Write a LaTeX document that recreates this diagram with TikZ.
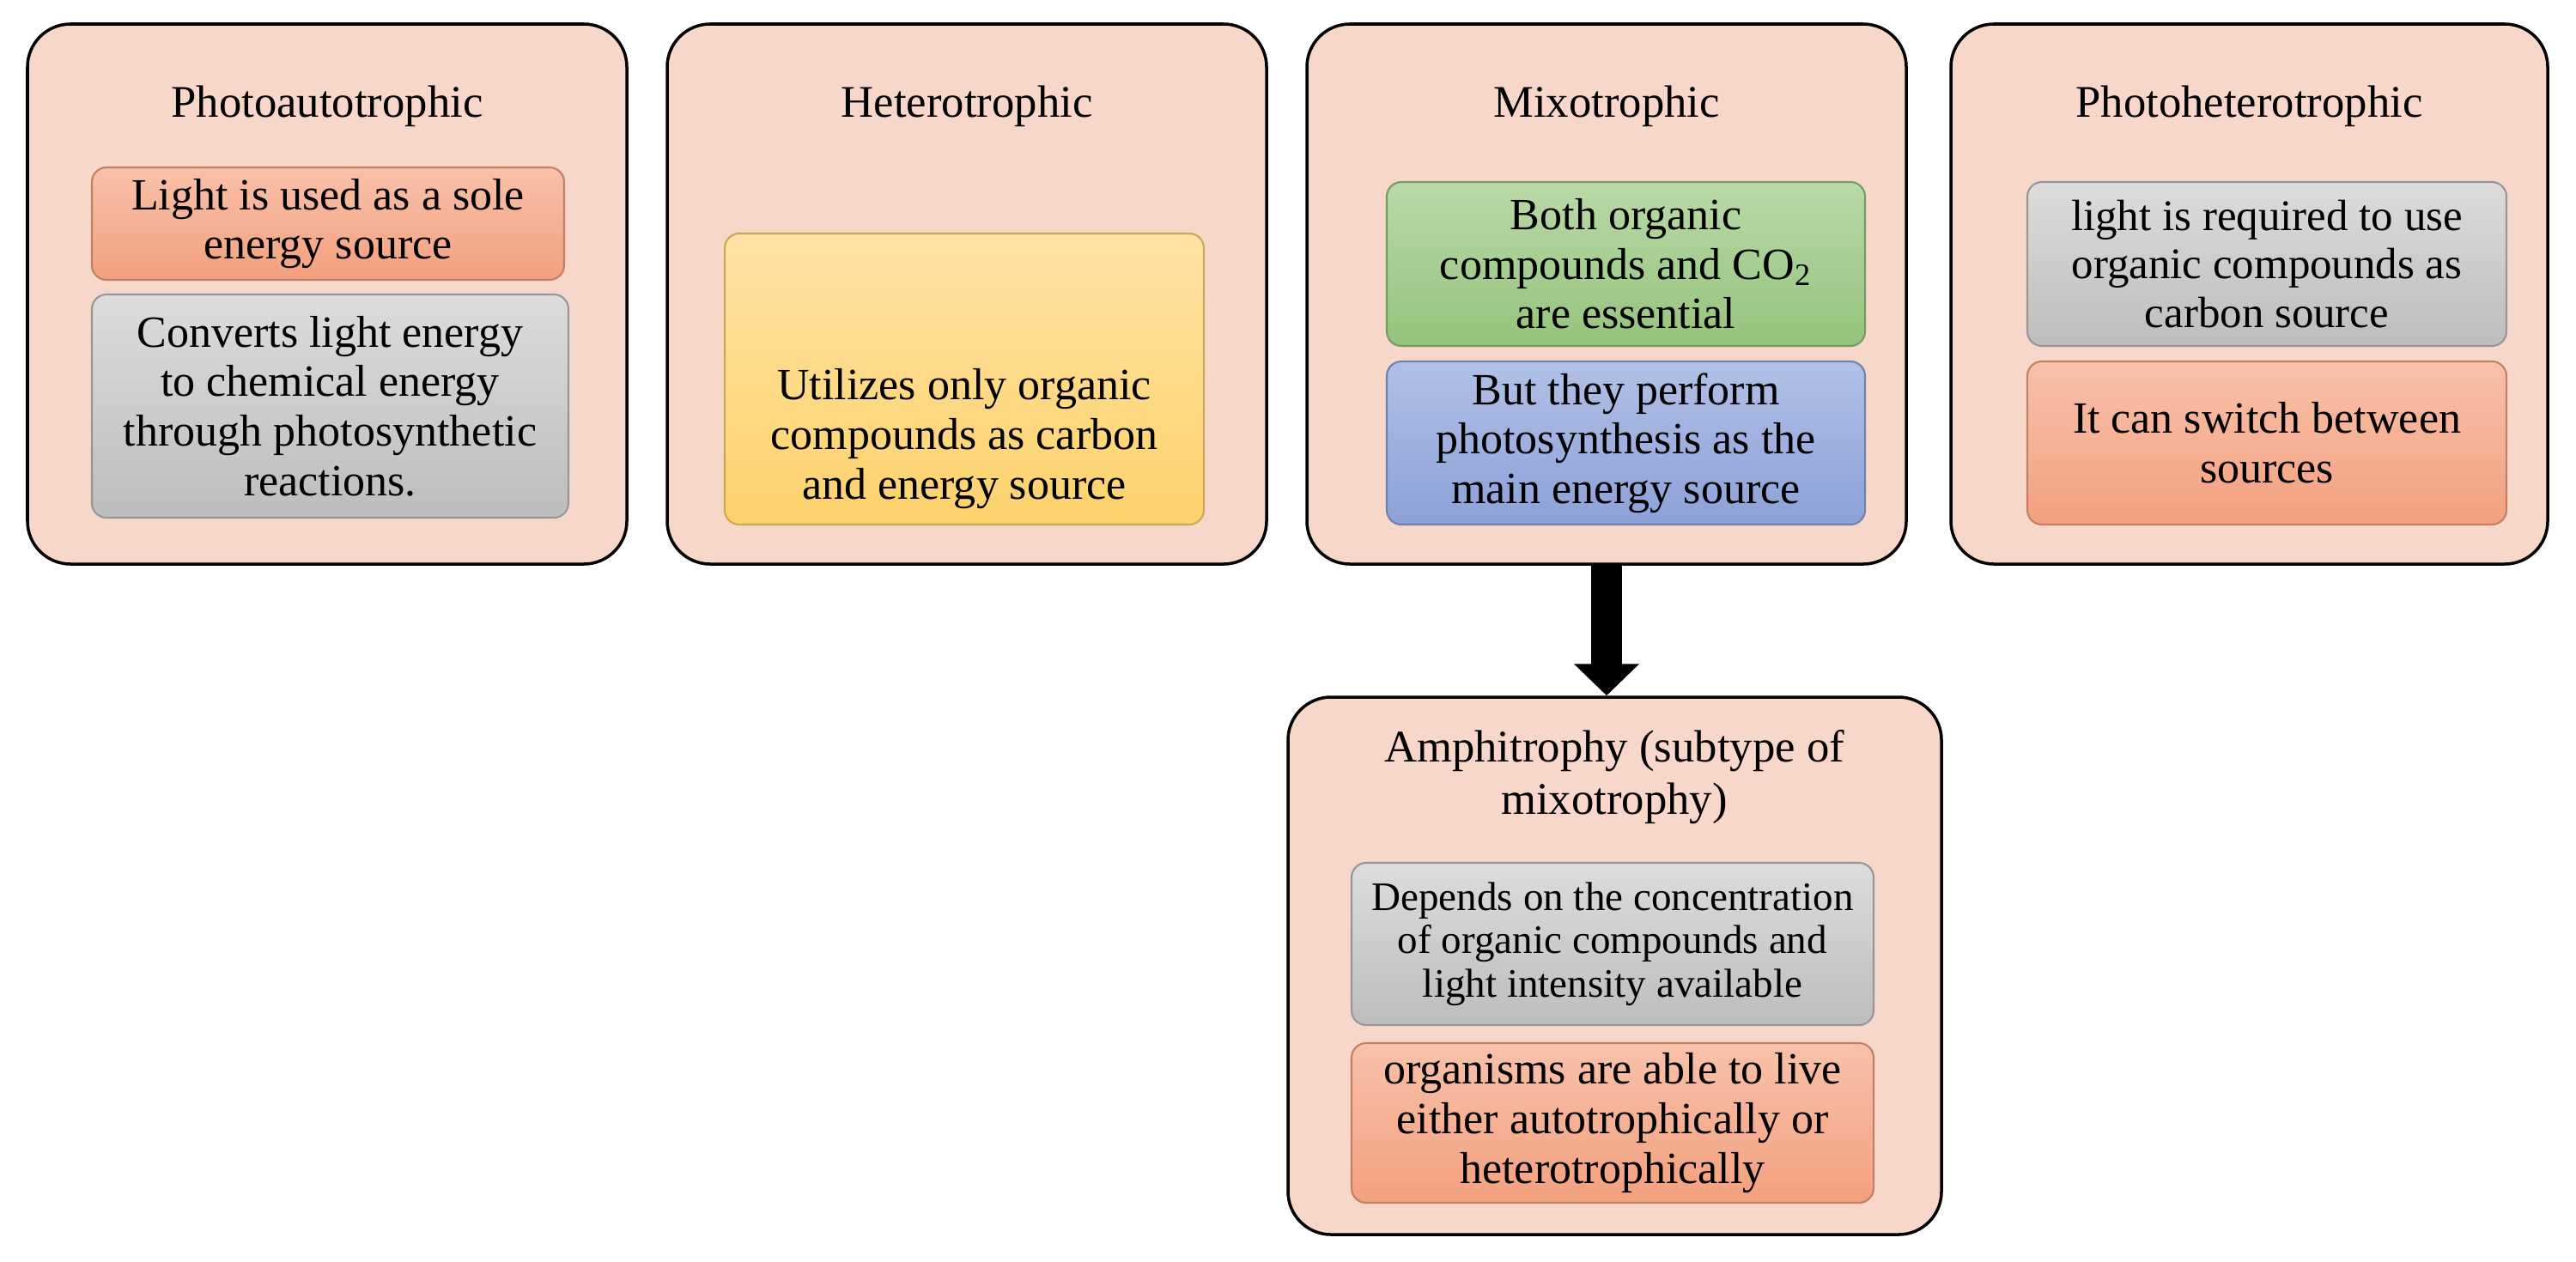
\documentclass[tikz,border=0pt]{standalone}
\usepackage{fontspec}
\setmainfont{Liberation Serif}
\usetikzlibrary{arrows.meta}

\definecolor{pinkbg}{HTML}{F8D7CB}
\definecolor{orangetop}{HTML}{F8C1AA}
\definecolor{orangebot}{HTML}{F3A07E}
\definecolor{graytop}{HTML}{DCDCDC}
\definecolor{graybot}{HTML}{BDBDBD}
\definecolor{yellowtop}{HTML}{FFE2A4}
\definecolor{yellowbot}{HTML}{FDD26C}
\definecolor{greentop}{HTML}{BAD9A8}
\definecolor{greenbot}{HTML}{95C37C}
\definecolor{bluetop}{HTML}{B2C0E6}
\definecolor{bluebot}{HTML}{8CA1D8}

\tikzset{
    outerbox/.style={draw=black, line width=1pt, fill=pinkbg, rounded corners=0.5cm,
        minimum width=6.98cm, minimum height=6.29cm},
    titletext/.style={font=\fontsize{15}{17.3}\selectfont, align=center, inner sep=0pt},
    innertext/.style={font=\fontsize{14.8}{16.4}\selectfont, align=center, inner sep=0pt},
    innerbox/.style={innertext, rounded corners=0.17cm, line width=0.6pt},
    orangebox/.style={innerbox, top color=orangetop, bottom color=orangebot, draw=orangebot!80!black},
    graybox/.style={innerbox, top color=graytop, bottom color=graybot, draw=graybot!80!black},
    yellowbox/.style={innerbox, top color=yellowtop, bottom color=yellowbot, draw=yellowbot!80!black},
    greenbox/.style={innerbox, top color=greentop, bottom color=greenbot, draw=greenbot!80!black},
    bluebox/.style={innerbox, top color=bluetop, bottom color=bluebot, draw=bluebot!80!black},
    bigarrow/.style={line width=0.36cm, -{Triangle[width=0.74cm,length=0.37cm]}, black}
}

\begin{document}
\begin{tikzpicture}
                \useasboundingbox (0,0) rectangle (30,-14.69);

                % four types on top
                \node[outerbox] (photo) at (3.81,-3.425) {};
                \node[outerbox] (hetero) at (11.26,-3.425) {};
                \node[outerbox] (mixo) at (18.71,-3.425) {};
                \node[outerbox, minimum width=6.95cm] (photohet) at (26.195,-3.425) {};
                \node[outerbox, minimum width=7.61cm, minimum height=6.26cm] (amphi) at (18.805,-11.25) {};

                \node[titletext] (photoT) at (3.81,-1.24) {Photoautotrophic};
                \node[titletext] (heteroT) at (11.26,-1.24) {Heterotrophic};
                \node[titletext] (mixoT) at (18.71,-1.24) {Mixotrophic};
                \node[titletext] (photohetT) at (26.195,-1.24) {Photoheterotrophic};
                \node[titletext] (amphiT) at (18.80,-9.05) {Amphitrophy (subtype of\\mixotrophy)};

                \node[orangebox, minimum width=5.5cm, minimum height=1.31cm] (photo1) at (3.82,-2.605) {Light is used as a sole\\energy source};
                \node[graybox, minimum width=5.55cm, minimum height=2.6cm] (photo2) at (3.845,-4.73) {Converts light energy\\to chemical energy\\through photosynthetic\\reactions.};

                \node[yellowbox, minimum width=5.58cm, minimum height=3.39cm] (hetero1) at (11.23,-4.415) {};
                \node[innertext] (hetero1T) at (11.23,-5.11) {Utilizes only organic\\compounds as carbon\\and energy source};

                \node[greenbox, minimum width=5.57cm, minimum height=1.91cm] (mixo1) at (18.935,-3.075) {Both organic\\compounds and CO\textsubscript{2}\\are essential};
                \node[bluebox, minimum width=5.57cm, minimum height=1.9cm] (mixo2) at (18.935,-5.16) {But they perform\\photosynthesis as the\\main energy source};

                \node[graybox, font=\fontsize{14.5}{16}\selectfont, minimum width=5.58cm, minimum height=1.91cm] (photohet1) at (26.40,-3.075) {light is required to use\\organic compounds as\\carbon source};
                \node[orangebox, minimum width=5.58cm, minimum height=1.9cm] (photohet2) at (26.40,-5.16) {It can switch between\\sources};

                \node[graybox, font=\fontsize{13.4}{14.4}\selectfont, minimum width=6.08cm, minimum height=1.89cm] (amphi1) at (18.78,-10.995) {Depends on the concentration\\of organic compounds and\\light intensity available};
                \node[orangebox, minimum width=6.08cm, minimum height=1.86cm] (amphi2) at (18.78,-13.08) {organisms are able to live\\either autotrophically or\\heterotrophically};

                \draw[bigarrow] (mixo.south) -- (mixo.south |- amphi.north);

            \end{tikzpicture}
\end{document}
